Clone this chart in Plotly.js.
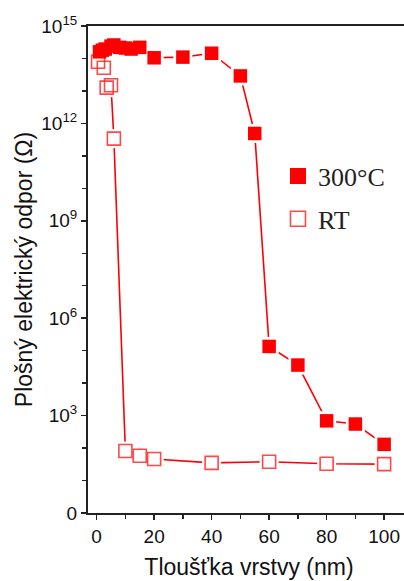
<!DOCTYPE html>
<html>
<head>
<meta charset="utf-8">
<script src="https://cdn.plot.ly/plotly-3.0.1.min.js"></script>
<style>
html,body{margin:0;padding:0;overflow:hidden;background:#fff;}
#chart{width:420px;height:581px;}
</style>
</head>
<body>
<div id="chart"></div>
<script>
// 300°C series (filled squares)
const xHot = [1, 2, 3, 5, 6, 8, 10, 12, 15, 20, 30, 40, 50, 55, 60, 70, 80, 90, 100];
const yHot = [1.6e14, 1.8e14, 1.95e14, 2.4e14, 2.6e14, 2.2e14, 2.1e14, 1.95e14, 2.2e14, 1.05e14, 1.1e14, 1.45e14, 2.9e13, 4.9e11, 1.35e5, 3.6e4, 690, 550, 130];
// RT series (open squares)
const xRT = [0.5, 2.5, 3.5, 5, 6, 10, 15, 20, 40, 60, 80, 100];
const yRT = [7.9e13, 5.2e13, 1.26e13, 1.5e13, 3.4e11, 81, 58, 46, 35, 38, 33, 32];
const seriesNames = ['300°C', 'RT'];
// axis ticks
const yTickVals = [1, 1e3, 1e6, 1e9, 1e12, 1e15];
const yTickText = ['0', '10<sup>3</sup>', '10<sup>6</sup>', '10<sup>9</sup>', '10<sup>12</sup>', '10<sup>15</sup>'];
const yMinorVals = [10, 100, 1e4, 1e5, 1e7, 1e8, 1e10, 1e11, 1e13, 1e14];
const xTickVals = [0, 20, 40, 60, 80, 100];
const xMinorVals = [10, 30, 50, 70, 90];

const red = '#ff0000';
const openRed = 'rgba(255,40,40,0.85)';
const traces = [
  {x: xHot, y: yHot, mode: 'lines', line: {color: red, width: 1.6}, showlegend: false, hoverinfo: 'skip'},
  {x: xRT, y: yRT, mode: 'lines', line: {color: red, width: 1.6}, showlegend: false, hoverinfo: 'skip'},
  {x: xHot.concat(xRT), y: yHot.concat(yRT), mode: 'markers', marker: {symbol: 'square', size: 19, color: '#ffffff'}, showlegend: false, hoverinfo: 'skip'},
  {x: xRT, y: yRT, mode: 'markers', showlegend: false,
   marker: {symbol: 'square-open', size: 13, color: openRed, line: {width: 1.6}}},
  {x: xHot, y: yHot, mode: 'markers', showlegend: false,
   marker: {symbol: 'square', size: 13.5, color: red}},
  // legend entries
  {x: [null], y: [null], mode: 'markers', name: seriesNames[0], legendgroup: 'a',
   marker: {symbol: 'square', size: 16, color: red}},
  {x: [null], y: [null], mode: 'markers', name: seriesNames[1], legendgroup: 'b',
   marker: {symbol: 'square-open', size: 15, color: openRed, line: {width: 1.6}}}
];

const layout = {
  width: 420, height: 581,
  margin: {l: 88, r: 10, t: 26, b: 68},
  paper_bgcolor: '#fff', plot_bgcolor: '#fff',
  font: {family: 'Liberation Sans, Arial, sans-serif', color: '#111', size: 19},
  xaxis: {
    range: [-3, 109], showgrid: false, zeroline: false,
    showline: true, linecolor: '#222', linewidth: 2, mirror: true,
    tickvals: xTickVals, ticks: 'outside', ticklen: 5, tickwidth: 1.5, tickcolor: '#222',
    minor: {tickvals: xMinorVals, ticks: 'outside', ticklen: 4, tickwidth: 1.5, tickcolor: '#222'},
    tickfont: {size: 19},
    title: {text: 'Tloušťka vrstvy (nm)', font: {size: 23}, standoff: 13}
  },
  yaxis: {
    type: 'log', range: [0, 15], showgrid: false, zeroline: false,
    showline: true, linecolor: '#222', linewidth: 2,
    tickvals: yTickVals, ticktext: yTickText, ticks: 'outside', ticklen: 5, tickwidth: 1.5, tickcolor: '#222',
    minor: {tickvals: yMinorVals, ticks: 'outside', ticklen: 4, tickwidth: 1.5, tickcolor: '#222'},
    tickfont: {size: 19},
    title: {text: 'Plošný elektrický odpor (Ω)', font: {size: 23}, standoff: 2}
  },
  legend: {
    x: 0.59, y: 0.74, xanchor: 'left', yanchor: 'top',
    font: {family: 'Liberation Serif, Times New Roman, serif', size: 26, color: '#222'},
    bgcolor: 'rgba(0,0,0,0)', tracegroupgap: 6, traceorder: 'grouped'
  },
  showlegend: true
};

Plotly.newPlot('chart', traces, layout, {displayModeBar: false, staticPlot: true});
</script>
</body>
</html>
